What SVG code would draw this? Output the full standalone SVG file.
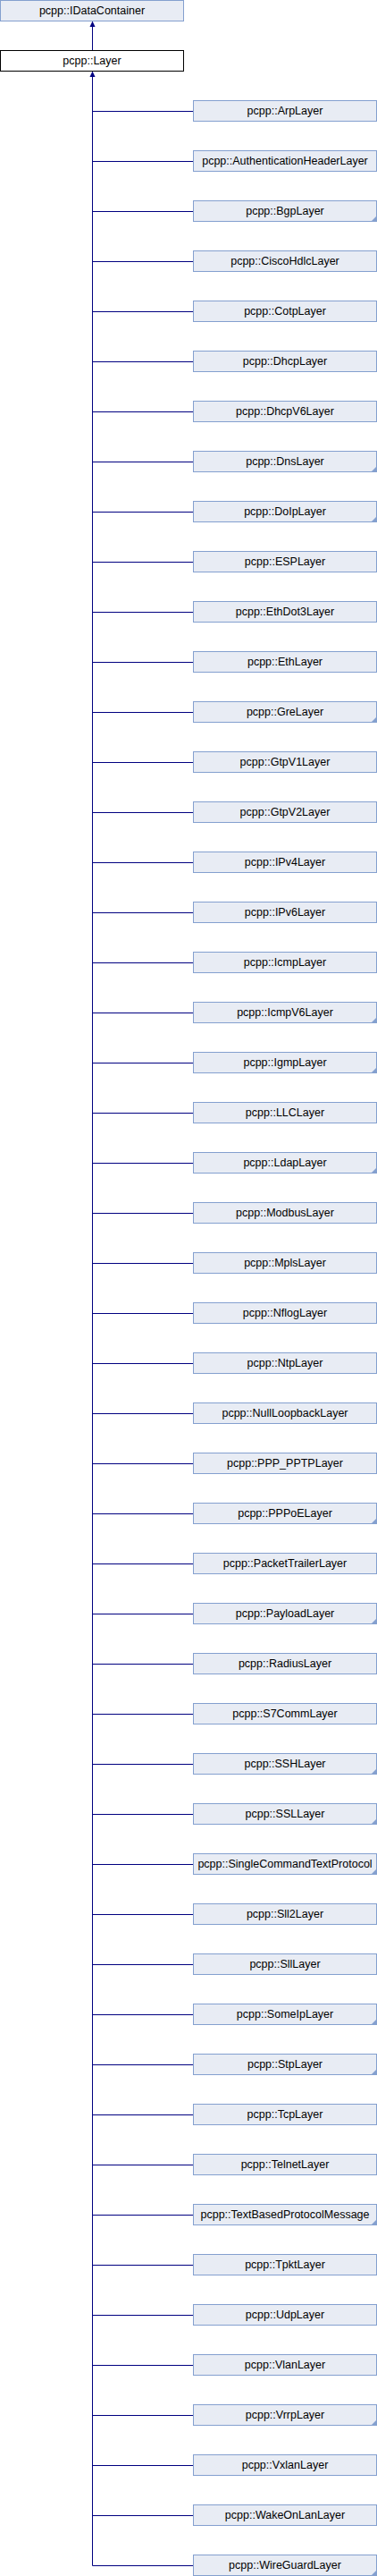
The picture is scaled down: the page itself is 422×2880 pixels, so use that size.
<svg xmlns="http://www.w3.org/2000/svg" width="422" height="2880" viewBox="0 0 422 2880">
<style>
.b{fill:#e8ecf4;stroke:#84a0cf;stroke-width:1}
.w{fill:#ffffff;stroke:#000000;stroke-width:1}
.t{font-family:"Liberation Sans",Arial,sans-serif;font-size:12.5px;fill:#000000;text-anchor:middle}
.c{fill:#84a0cf}
.l{stroke:#000080;stroke-width:1;fill:none}
.a{fill:#000080}
</style>
<rect width="422" height="2880" fill="#ffffff"/>
<g id="connectors">
<line class="l" x1="103.5" y1="29" x2="103.5" y2="56"/>
<polygon class="a" points="103.5,23.5 100.5,30 106.5,30"/>
<line class="l" x1="103.5" y1="85" x2="103.5" y2="2868.5"/>
<polygon class="a" points="103.5,79.5 100.5,86 106.5,86"/>
<path class="l" d="M103.5 124.5H216M103.5 180.5H216M103.5 236.5H216M103.5 292.5H216M103.5 348.5H216M103.5 404.5H216M103.5 460.5H216M103.5 516.5H216M103.5 572.5H216M103.5 628.5H216M103.5 684.5H216M103.5 740.5H216M103.5 796.5H216M103.5 852.5H216M103.5 908.5H216M103.5 964.5H216M103.5 1020.5H216M103.5 1076.5H216M103.5 1132.5H216M103.5 1188.5H216M103.5 1244.5H216M103.5 1300.5H216M103.5 1356.5H216M103.5 1412.5H216M103.5 1468.5H216M103.5 1524.5H216M103.5 1580.5H216M103.5 1636.5H216M103.5 1692.5H216M103.5 1748.5H216M103.5 1804.5H216M103.5 1860.5H216M103.5 1916.5H216M103.5 1972.5H216M103.5 2028.5H216M103.5 2084.5H216M103.5 2140.5H216M103.5 2196.5H216M103.5 2252.5H216M103.5 2308.5H216M103.5 2364.5H216M103.5 2420.5H216M103.5 2476.5H216M103.5 2532.5H216M103.5 2588.5H216M103.5 2644.5H216M103.5 2700.5H216M103.5 2756.5H216M103.5 2812.5H216M103.5 2868.5H216"/>
</g>
<g id="IDataContainer"><rect class="b" x="0.5" y="0.5" width="205" height="23"/><text class="t" x="103" y="16">pcpp::IDataContainer</text></g>
<g id="Layer"><rect class="w" x="0.5" y="56.5" width="205" height="23"/><text class="t" x="103" y="72">pcpp::Layer</text></g>
<g id="ArpLayer"><rect class="b" x="216.5" y="112.5" width="205" height="23"/><text class="t" x="319" y="128">pcpp::ArpLayer</text></g>
<g id="AuthenticationHeaderLayer"><rect class="b" x="216.5" y="168.5" width="205" height="23"/><text class="t" x="319" y="184">pcpp::AuthenticationHeaderLayer</text></g>
<g id="BgpLayer"><rect class="b" x="216.5" y="224.5" width="205" height="23"/><polygon class="c" points="421,242 421,247 416,247"/><text class="t" x="319" y="240">pcpp::BgpLayer</text></g>
<g id="CiscoHdlcLayer"><rect class="b" x="216.5" y="280.5" width="205" height="23"/><text class="t" x="319" y="296">pcpp::CiscoHdlcLayer</text></g>
<g id="CotpLayer"><rect class="b" x="216.5" y="336.5" width="205" height="23"/><text class="t" x="319" y="352">pcpp::CotpLayer</text></g>
<g id="DhcpLayer"><rect class="b" x="216.5" y="392.5" width="205" height="23"/><text class="t" x="319" y="408">pcpp::DhcpLayer</text></g>
<g id="DhcpV6Layer"><rect class="b" x="216.5" y="448.5" width="205" height="23"/><text class="t" x="319" y="464">pcpp::DhcpV6Layer</text></g>
<g id="DnsLayer"><rect class="b" x="216.5" y="504.5" width="205" height="23"/><polygon class="c" points="421,522 421,527 416,527"/><text class="t" x="319" y="520">pcpp::DnsLayer</text></g>
<g id="DoIpLayer"><rect class="b" x="216.5" y="560.5" width="205" height="23"/><polygon class="c" points="421,578 421,583 416,583"/><text class="t" x="319" y="576">pcpp::DoIpLayer</text></g>
<g id="ESPLayer"><rect class="b" x="216.5" y="616.5" width="205" height="23"/><text class="t" x="319" y="632">pcpp::ESPLayer</text></g>
<g id="EthDot3Layer"><rect class="b" x="216.5" y="672.5" width="205" height="23"/><text class="t" x="319" y="688">pcpp::EthDot3Layer</text></g>
<g id="EthLayer"><rect class="b" x="216.5" y="728.5" width="205" height="23"/><text class="t" x="319" y="744">pcpp::EthLayer</text></g>
<g id="GreLayer"><rect class="b" x="216.5" y="784.5" width="205" height="23"/><polygon class="c" points="421,802 421,807 416,807"/><text class="t" x="319" y="800">pcpp::GreLayer</text></g>
<g id="GtpV1Layer"><rect class="b" x="216.5" y="840.5" width="205" height="23"/><text class="t" x="319" y="856">pcpp::GtpV1Layer</text></g>
<g id="GtpV2Layer"><rect class="b" x="216.5" y="896.5" width="205" height="23"/><text class="t" x="319" y="912">pcpp::GtpV2Layer</text></g>
<g id="IPv4Layer"><rect class="b" x="216.5" y="952.5" width="205" height="23"/><text class="t" x="319" y="968">pcpp::IPv4Layer</text></g>
<g id="IPv6Layer"><rect class="b" x="216.5" y="1008.5" width="205" height="23"/><text class="t" x="319" y="1024">pcpp::IPv6Layer</text></g>
<g id="IcmpLayer"><rect class="b" x="216.5" y="1064.5" width="205" height="23"/><text class="t" x="319" y="1080">pcpp::IcmpLayer</text></g>
<g id="IcmpV6Layer"><rect class="b" x="216.5" y="1120.5" width="205" height="23"/><polygon class="c" points="421,1138 421,1143 416,1143"/><text class="t" x="319" y="1136">pcpp::IcmpV6Layer</text></g>
<g id="IgmpLayer"><rect class="b" x="216.5" y="1176.5" width="205" height="23"/><polygon class="c" points="421,1194 421,1199 416,1199"/><text class="t" x="319" y="1192">pcpp::IgmpLayer</text></g>
<g id="LLCLayer"><rect class="b" x="216.5" y="1232.5" width="205" height="23"/><text class="t" x="319" y="1248">pcpp::LLCLayer</text></g>
<g id="LdapLayer"><rect class="b" x="216.5" y="1288.5" width="205" height="23"/><polygon class="c" points="421,1306 421,1311 416,1311"/><text class="t" x="319" y="1304">pcpp::LdapLayer</text></g>
<g id="ModbusLayer"><rect class="b" x="216.5" y="1344.5" width="205" height="23"/><text class="t" x="319" y="1360">pcpp::ModbusLayer</text></g>
<g id="MplsLayer"><rect class="b" x="216.5" y="1400.5" width="205" height="23"/><text class="t" x="319" y="1416">pcpp::MplsLayer</text></g>
<g id="NflogLayer"><rect class="b" x="216.5" y="1456.5" width="205" height="23"/><text class="t" x="319" y="1472">pcpp::NflogLayer</text></g>
<g id="NtpLayer"><rect class="b" x="216.5" y="1512.5" width="205" height="23"/><text class="t" x="319" y="1528">pcpp::NtpLayer</text></g>
<g id="NullLoopbackLayer"><rect class="b" x="216.5" y="1568.5" width="205" height="23"/><text class="t" x="319" y="1584">pcpp::NullLoopbackLayer</text></g>
<g id="PPP_PPTPLayer"><rect class="b" x="216.5" y="1624.5" width="205" height="23"/><text class="t" x="319" y="1640">pcpp::PPP_PPTPLayer</text></g>
<g id="PPPoELayer"><rect class="b" x="216.5" y="1680.5" width="205" height="23"/><polygon class="c" points="421,1698 421,1703 416,1703"/><text class="t" x="319" y="1696">pcpp::PPPoELayer</text></g>
<g id="PacketTrailerLayer"><rect class="b" x="216.5" y="1736.5" width="205" height="23"/><text class="t" x="319" y="1752">pcpp::PacketTrailerLayer</text></g>
<g id="PayloadLayer"><rect class="b" x="216.5" y="1792.5" width="205" height="23"/><polygon class="c" points="421,1810 421,1815 416,1815"/><text class="t" x="319" y="1808">pcpp::PayloadLayer</text></g>
<g id="RadiusLayer"><rect class="b" x="216.5" y="1848.5" width="205" height="23"/><text class="t" x="319" y="1864">pcpp::RadiusLayer</text></g>
<g id="S7CommLayer"><rect class="b" x="216.5" y="1904.5" width="205" height="23"/><text class="t" x="319" y="1920">pcpp::S7CommLayer</text></g>
<g id="SSHLayer"><rect class="b" x="216.5" y="1960.5" width="205" height="23"/><polygon class="c" points="421,1978 421,1983 416,1983"/><text class="t" x="319" y="1976">pcpp::SSHLayer</text></g>
<g id="SSLLayer"><rect class="b" x="216.5" y="2016.5" width="205" height="23"/><polygon class="c" points="421,2034 421,2039 416,2039"/><text class="t" x="319" y="2032">pcpp::SSLLayer</text></g>
<g id="SingleCommandTextProtocol"><rect class="b" x="216.5" y="2072.5" width="205" height="23"/><polygon class="c" points="421,2090 421,2095 416,2095"/><text class="t" x="319" y="2088">pcpp::SingleCommandTextProtocol</text></g>
<g id="Sll2Layer"><rect class="b" x="216.5" y="2128.5" width="205" height="23"/><text class="t" x="319" y="2144">pcpp::Sll2Layer</text></g>
<g id="SllLayer"><rect class="b" x="216.5" y="2184.5" width="205" height="23"/><text class="t" x="319" y="2200">pcpp::SllLayer</text></g>
<g id="SomeIpLayer"><rect class="b" x="216.5" y="2240.5" width="205" height="23"/><polygon class="c" points="421,2258 421,2263 416,2263"/><text class="t" x="319" y="2256">pcpp::SomeIpLayer</text></g>
<g id="StpLayer"><rect class="b" x="216.5" y="2296.5" width="205" height="23"/><polygon class="c" points="421,2314 421,2319 416,2319"/><text class="t" x="319" y="2312">pcpp::StpLayer</text></g>
<g id="TcpLayer"><rect class="b" x="216.5" y="2352.5" width="205" height="23"/><text class="t" x="319" y="2368">pcpp::TcpLayer</text></g>
<g id="TelnetLayer"><rect class="b" x="216.5" y="2408.5" width="205" height="23"/><text class="t" x="319" y="2424">pcpp::TelnetLayer</text></g>
<g id="TextBasedProtocolMessage"><rect class="b" x="216.5" y="2464.5" width="205" height="23"/><polygon class="c" points="421,2482 421,2487 416,2487"/><text class="t" x="319" y="2480">pcpp::TextBasedProtocolMessage</text></g>
<g id="TpktLayer"><rect class="b" x="216.5" y="2520.5" width="205" height="23"/><text class="t" x="319" y="2536">pcpp::TpktLayer</text></g>
<g id="UdpLayer"><rect class="b" x="216.5" y="2576.5" width="205" height="23"/><text class="t" x="319" y="2592">pcpp::UdpLayer</text></g>
<g id="VlanLayer"><rect class="b" x="216.5" y="2632.5" width="205" height="23"/><text class="t" x="319" y="2648">pcpp::VlanLayer</text></g>
<g id="VrrpLayer"><rect class="b" x="216.5" y="2688.5" width="205" height="23"/><polygon class="c" points="421,2706 421,2711 416,2711"/><text class="t" x="319" y="2704">pcpp::VrrpLayer</text></g>
<g id="VxlanLayer"><rect class="b" x="216.5" y="2744.5" width="205" height="23"/><text class="t" x="319" y="2760">pcpp::VxlanLayer</text></g>
<g id="WakeOnLanLayer"><rect class="b" x="216.5" y="2800.5" width="205" height="23"/><text class="t" x="319" y="2816">pcpp::WakeOnLanLayer</text></g>
<g id="WireGuardLayer"><rect class="b" x="216.5" y="2856.5" width="205" height="23"/><polygon class="c" points="421,2874 421,2879 416,2879"/><text class="t" x="319" y="2872">pcpp::WireGuardLayer</text></g>
</svg>
